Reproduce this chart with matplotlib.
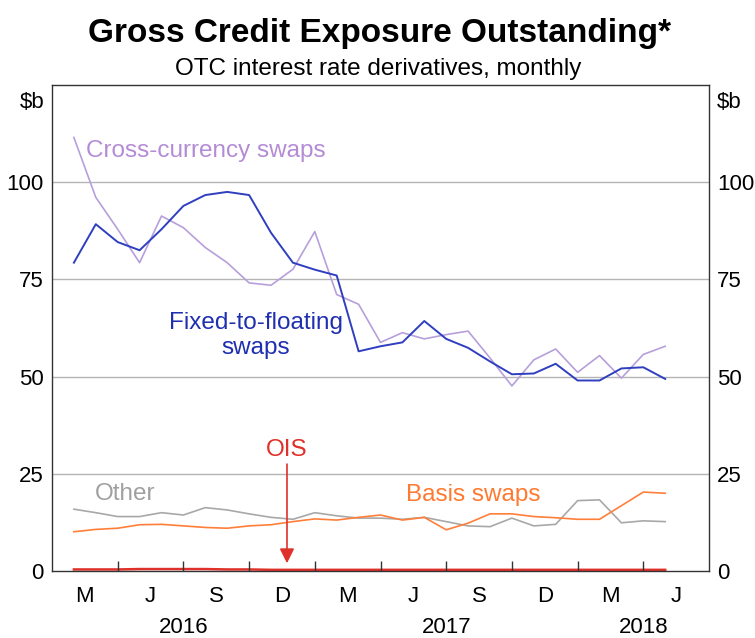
import matplotlib
matplotlib.use("Agg")
import matplotlib.pyplot as plt
import numpy as np

plt.rcParams['font.family'] = ['Liberation Sans', 'DejaVu Sans']

# Month-end observations, Jan 2016 .. Apr 2018 (x = months since 1 Jan 2016)
months = np.arange(1, 29)

cross_currency = [111.5, 96.1, 87.9, 79.3, 91.3, 88.3, 83.2, 79.3, 74.1, 73.5,
                  77.6, 87.3, 71.1, 68.6, 58.8, 61.3, 59.7, 60.8, 61.7, 54.8,
                  47.6, 54.3, 57.1, 51.1, 55.4, 49.6, 55.7, 57.8]
fixed_floating = [79.3, 89.2, 84.6, 82.5, 87.9, 93.9, 96.7, 97.5, 96.7, 87.0,
                  79.3, 77.5, 76.0, 56.5, 57.8, 58.8, 64.3, 59.7, 57.4, 53.9,
                  50.6, 50.8, 53.3, 49.0, 49.0, 52.1, 52.4, 49.4]
other = [15.9, 15.0, 14.0, 14.0, 15.0, 14.4, 16.3, 15.7, 14.7, 13.8,
         13.3, 15.0, 14.2, 13.6, 13.6, 13.3, 13.8, 12.7, 11.6, 11.4,
         13.6, 11.6, 12.0, 18.1, 18.3, 12.4, 12.9, 12.7]
basis = [10.1, 10.7, 11.0, 11.9, 12.0, 11.6, 11.2, 11.0, 11.6, 11.9,
         12.7, 13.4, 13.1, 13.8, 14.4, 13.1, 13.8, 10.6, 12.3, 14.7,
         14.7, 14.0, 13.7, 13.3, 13.3, 16.8, 20.3, 20.0]
ois = [0.4, 0.4, 0.4, 0.5, 0.5, 0.5, 0.5, 0.4, 0.4, 0.3,
       0.3, 0.3, 0.3, 0.3, 0.3, 0.3, 0.3, 0.3, 0.3, 0.3,
       0.3, 0.3, 0.3, 0.3, 0.3, 0.3, 0.3, 0.3]

quarter_labels = ['M', 'J', 'S', 'D', 'M', 'J', 'S', 'D', 'M', 'J']
years = ['2016', '2017', '2018']
year_pos = [6, 18, 27]

C_CROSS = '#b79fdc'
C_FIXED = '#2f3fbf'
C_OTHER = '#a8a8a8'
C_BASIS = '#ff7f3a'
C_OIS = '#e0302a'

fig = plt.figure(figsize=(7.55, 6.38), dpi=100)
ax = fig.add_axes([52 / 755, 67 / 638, 657 / 755, 486 / 638])

ax.plot(months, other, color=C_OTHER, lw=1.2)
ax.plot(months, basis, color=C_BASIS, lw=1.2)
ax.plot(months, cross_currency, color=C_CROSS, lw=1.2)
ax.plot(months, fixed_floating, color=C_FIXED, lw=1.4)
ax.plot(months, ois, color=C_OIS, lw=1.8, clip_on=False, zorder=1)

ax.set_xlim(0, 30)
ax.set_ylim(0, 125)

# gridlines
for v in [25, 50, 75, 100]:
    ax.axhline(v, color='#b4b4b4', lw=1.0, zorder=0)

for s in ax.spines.values():
    s.set_color('#333333')
    s.set_linewidth(1.0)

ax.set_yticks([0, 25, 50, 75, 100])
ax.tick_params(axis='y', length=0, labelsize=16, pad=6,
               labelleft=True, labelright=True)

ax.set_xticks(np.arange(3, 30, 3))
ax.set_xticklabels([])
ax.set_xticks(np.arange(1.5, 30, 3), minor=True)
ax.set_xticklabels(quarter_labels, minor=True)
ax.tick_params(axis='x', which='major', direction='in', length=7,
               width=1.0, color='#333333')
ax.tick_params(axis='x', which='minor', length=0, labelsize=16, pad=11)

for lab, xp in zip(years, year_pos):
    ax.text(xp, -0.117, lab, transform=ax.get_xaxis_transform(),
            ha='center', va='center', fontsize=16)

ax.text(-0.012, 0.963, '$b', transform=ax.transAxes, ha='right', va='center',
        fontsize=16)
ax.text(1.012, 0.963, '$b', transform=ax.transAxes, ha='left', va='center',
        fontsize=16)

# series labels
ax.text(1.55, 108, 'Cross-currency swaps', color='#b48cd6', fontsize=17.5,
        ha='left', va='center')
ax.text(9.3, 60.5, 'Fixed-to-floating\nswaps', color='#1f2fb0', fontsize=17.5,
        ha='center', va='center', linespacing=1.2)
ax.text(1.95, 19.8, 'Other', color='#a0a0a0', fontsize=17.5,
        ha='left', va='center')
ax.text(19.25, 19.6, 'Basis swaps', color='#ff7a30', fontsize=17.5,
        ha='center', va='center')
ax.text(10.73, 31.0, 'OIS', color=C_OIS, fontsize=17.5, ha='center',
        va='center')
ax.annotate('', xy=(10.73, 2.0), xytext=(10.73, 27.5),
            arrowprops=dict(arrowstyle='-|>', color=C_OIS, lw=1.2,
                            mutation_scale=22, shrinkA=0, shrinkB=0))

fig.text(0.503, 0.947, 'Gross Credit Exposure Outstanding*', ha='center',
         va='center', fontsize=24, fontweight='bold')
fig.text(0.501, 0.892, 'OTC interest rate derivatives, monthly', ha='center',
         va='center', fontsize=17.5)

fig.savefig('out.png', dpi=100)
